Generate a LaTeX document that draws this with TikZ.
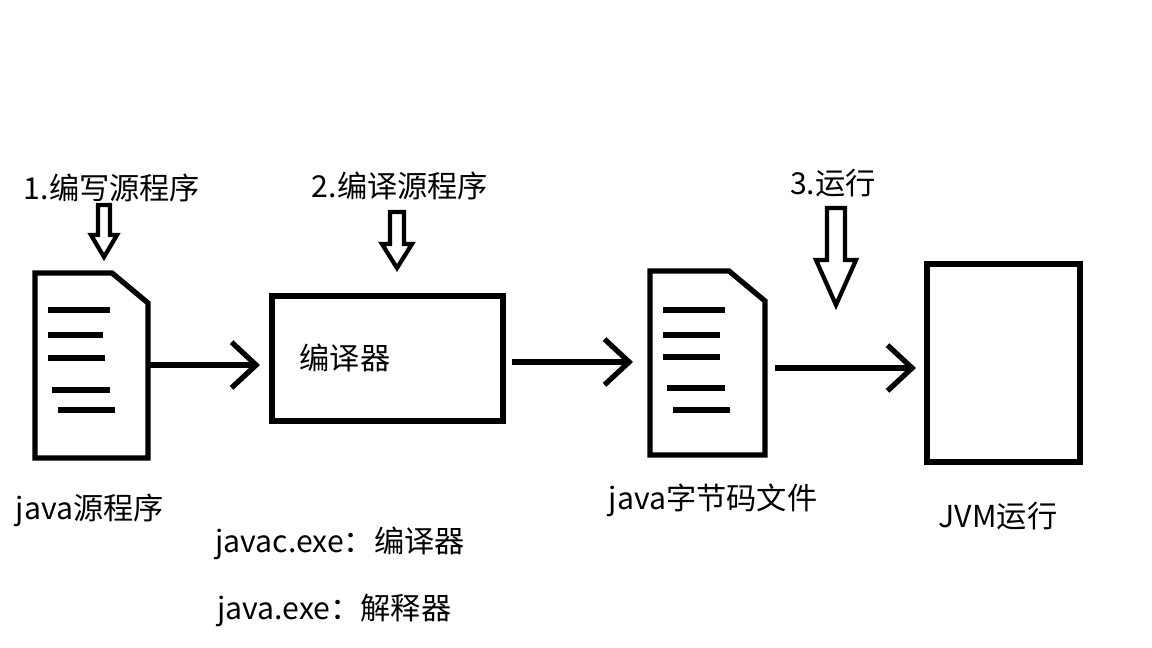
\documentclass[tikz,border=0pt]{standalone}
\usepackage{fontspec}
\setmainfont{Noto Sans CJK SC}
\usetikzlibrary{arrows.meta}

% hollow down arrow: x, top, bottom, half shaft, half head, head length
\newcommand{\downarrowbox}[6]{%
  \draw[line width=2.4pt, line join=miter]
    (#1-#4,#2) -- (#1+#4,#2) -- (#1+#4,#3-#6) -- (#1+#5,#3-#6) -- (#1,#3)
    -- (#1-#5,#3-#6) -- (#1-#4,#3-#6) -- cycle;}
% page with folded corner and text lines
\newcommand{\pagedoc}[5]{%
  \draw[line width=3pt, line join=miter]
    (#1,#2) -- (#3-36,#2) -- (#3,#2+30) -- (#3,#4) -- (#1,#4) -- cycle;
  \foreach \ya/\xa/\xb in {#5}
    \draw[line width=3pt] (#1+\xa,\ya) -- (#1+\xb,\ya);}

\begin{document}
\begin{tikzpicture}[x=0.02cm, y=-0.02cm,
    lbl/.style={inner sep=0pt, font=\fontsize{17.2}{20}\selectfont},
    box/.style={draw, line width=3pt, inner sep=0pt},
    flow/.style={line width=3pt, -{Straight Barb[length=14pt, width=26pt, line width=3pt]}}]
  \useasboundingbox (0,0) rectangle (1152,648);

  % source file
  \pagedoc{35}{273}{148}{458}{310/13/75, 335/13/68, 358/13/70, 390/17/75, 410/23/80}
  \coordinate (src) at (150,365);
  \node[lbl] (srclabel) at (90,510) {java源程序};
  \node[lbl] (step1) at (112,188) {1.编写源程序};
  \downarrowbox{104}{205}{257}{6}{13}{22}

  % compiler
  \node[box, minimum width=231*0.02cm, minimum height=125*0.02cm] (compiler) at (387.5,358.5) {};
  \node[lbl] (compilerlabel) at (345,358) {编译器};
  \node[lbl] (step2) at (400,186) {2.编译源程序};
  \downarrowbox{397}{212}{268}{7}{15}{24}
  \node[lbl, anchor=west] (javac) at (215,543) {javac.exe：编译器};
  \node[lbl, anchor=west] (java) at (217,610) {java.exe：解释器};

  % bytecode file
  \pagedoc{650}{271}{765}{455}{310/13/75, 335/13/70, 357/13/70, 388/17/75, 410/23/80}
  \coordinate (bcin) at (633,362);
  \coordinate (bcout) at (775,368);
  \node[lbl] (bclabel) at (713,500) {java字节码文件};

  % jvm
  \node[box, minimum width=153*0.02cm, minimum height=198*0.02cm] (jvm) at (1003.5,363) {};
  \node[lbl] (jvmlabel) at (998,516) {JVM运行};
  \node[lbl] (step3) at (833,183) {3.运行};
  \downarrowbox{836}{208}{305}{9}{20}{45}

  \coordinate (cin) at (260,365);
  \coordinate (cout) at (512,362);
  \coordinate (jin) at (916,368);
  \draw[flow] (src) -- (cin);
  \draw[flow] (cout) -- (bcin);
  \draw[flow] (bcout) -- (jin);
\end{tikzpicture}
\end{document}
